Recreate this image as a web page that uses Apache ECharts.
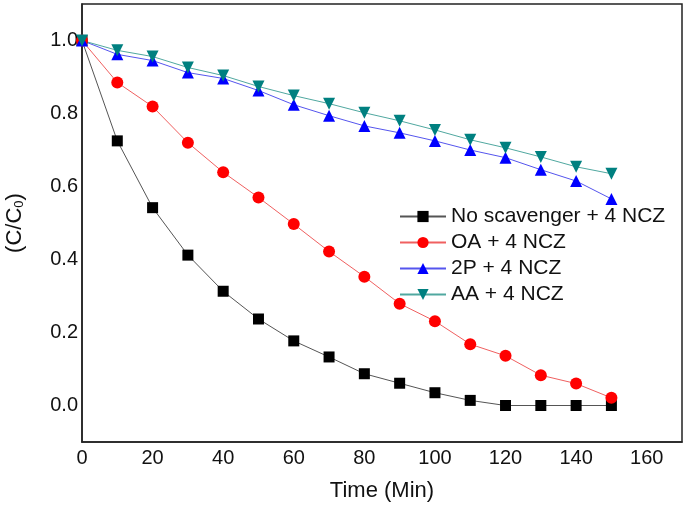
<!DOCTYPE html>
<html>
<head>
<meta charset="utf-8">
<script src="https://cdn.jsdelivr.net/npm/echarts@6/dist/echarts.min.js"></script>
<style>html,body{margin:0;padding:0;background:#fff;}#c{width:685px;height:505px;}</style>
</head>
<body>
<div id="c"></div>
<script>
const times = [0,10,20,30,40,50,60,70,80,90,100,110,120,130,140,150];
const noScavenger = [1.0,0.725,0.542,0.412,0.313,0.237,0.177,0.133,0.087,0.061,0.035,0.014,0,0,0,0];
const oa = [1.0,0.885,0.819,0.72,0.639,0.57,0.497,0.422,0.353,0.279,0.231,0.168,0.136,0.083,0.06,0.021];
const twoP = [1.0,0.962,0.945,0.912,0.896,0.863,0.824,0.794,0.766,0.747,0.725,0.70,0.679,0.646,0.615,0.566];
const aa = [1.0,0.973,0.956,0.926,0.904,0.874,0.849,0.827,0.802,0.78,0.755,0.728,0.706,0.681,0.654,0.635];
const seriesNames = ['No scavenger + 4 NCZ','OA + 4 NCZ','2P + 4 NCZ','AA + 4 NCZ'];

function pairs(ys){ return times.map((t,i)=>[t, ys[i]]); }

const font = 'Liberation Sans, Arial, sans-serif';
const chart = echarts.init(document.getElementById('c'), null, {renderer:'canvas'});
chart.setOption({
  animation:false,
  backgroundColor:'#fff',
  grid:{left:82,right:3,top:4,bottom:63,show:true,borderColor:'#222',borderWidth:1.5,backgroundColor:'transparent',
        containLabel:false, outerBoundsMode:'none'},
  legend:{
    left:394, top:201, orient:'vertical', itemWidth:46, itemHeight:14, itemGap:5,
    textStyle:{fontFamily:font,fontSize:21,lineHeight:21,color:'#111'},
    data:seriesNames
  },
  xAxis:{
    type:'value', min:0, max:170, interval:20,
    name:'Time (Min)', nameLocation:'middle', nameGap:38,
    nameTextStyle:{fontFamily:font,fontSize:22,color:'#111'},
    axisLine:{show:true,onZero:false,lineStyle:{color:'#222',width:1.5}},
    axisTick:{show:false},
    splitLine:{show:false},
    axisLabel:{fontFamily:font,fontSize:20,color:'#111',margin:6,showMaxLabel:false}
  },
  yAxis:{
    type:'value', min:-0.1, max:1.1, splitNumber:6,
    name:'{a|(C/C}{s|0}{a|)}', nameLocation:'middle', nameGap:56, nameRotate:90,
    nameTextStyle:{rich:{a:{fontFamily:font,fontSize:22,color:'#111'},s:{fontFamily:font,fontSize:13,color:'#111',verticalAlign:'bottom',padding:[8,0,0,0]}}},
    axisLine:{show:true,onZero:false,lineStyle:{color:'#222',width:1.5}},
    axisTick:{show:false},
    splitLine:{show:false},
    axisLabel:{fontFamily:font,fontSize:20,color:'#111',margin:4,showMinLabel:false,showMaxLabel:false,
      formatter:v=>v.toFixed(1)}
  },
  series:[
    {name:seriesNames[0],type:'line',data:pairs(noScavenger),symbol:'rect',symbolSize:11,
     itemStyle:{color:'#000'},lineStyle:{color:'#555',width:1}},
    {name:seriesNames[1],type:'line',data:pairs(oa),symbol:'circle',symbolSize:12,
     itemStyle:{color:'#ff0000'},lineStyle:{color:'#f06060',width:1}},
    {name:seriesNames[2],type:'line',data:pairs(twoP),symbol:'triangle',symbolSize:12,
     itemStyle:{color:'#0000ff'},lineStyle:{color:'#5555ee',width:1}},
    {name:seriesNames[3],type:'line',data:pairs(aa),symbol:'triangle',symbolRotate:180,symbolSize:12,
     itemStyle:{color:'#008080'},lineStyle:{color:'#50a8a0',width:1}}
  ]
});
</script>
</body>
</html>
